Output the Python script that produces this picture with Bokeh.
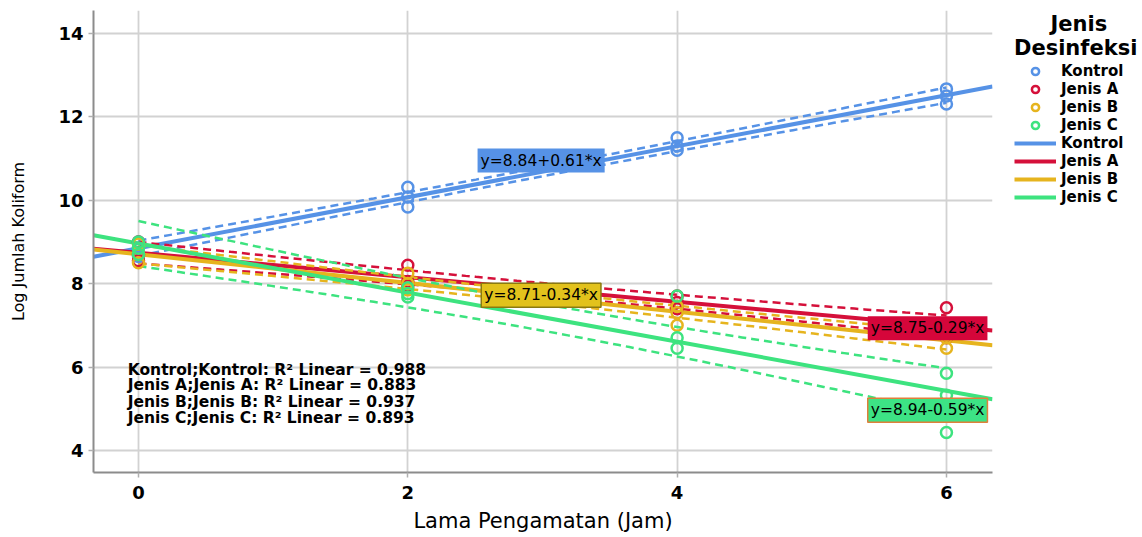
import numpy as np
from bokeh.plotting import figure
from bokeh.models import Label, Legend, LegendItem, Range1d, FixedTicker
from bokeh.embed import file_html
from bokeh.resources import INLINE

# ---------------- data ----------------
groups = ["Kontrol", "Jenis A", "Jenis B", "Jenis C"]
hours = [0, 0, 0, 2, 2, 2, 4, 4, 4, 6, 6, 6]
kontrol = [8.65, 8.85, 9.00, 10.31, 10.08, 9.84, 11.50, 11.30, 11.20, 12.67, 12.50, 12.31]
jenis_a = [9.00, 8.70, 8.55, 8.44, 8.05, 7.95, 7.70, 7.55, 7.40, 7.42, 6.85, 6.70]
jenis_b = [8.95, 8.70, 8.50, 8.25, 8.00, 7.85, 7.45, 7.30, 7.00, 6.90, 6.70, 6.45]
jenis_c = [9.00, 8.85, 8.70, 7.90, 7.76, 7.68, 7.70, 6.70, 6.45, 5.85, 5.32, 4.43]
eq_intercepts = [8.84, 8.75, 8.71, 8.94]
eq_slopes = [0.61, -0.29, -0.34, -0.59]
r2_values = [0.988, 0.883, 0.937, 0.893]
x_ticks = [0, 2, 4, 6]
y_ticks = [4, 6, 8, 10, 12, 14]

colors = ["#5692e6", "#d5103a", "#e6b41e", "#3de37f"]
box_fill = ["#5692e6", "#d5063a", "#e2c21c", "#3de385"]
box_line = [None, None, "#8a7a10", "#e0803a"]

X0, X1 = -0.334, 6.342
Y0, Y1 = 3.47, 14.55
T975 = 2.228  # t(0.975, df=10)

FONT = "DejaVu Sans"

p = figure(frame_width=899, frame_height=462, x_range=Range1d(X0, X1),
           y_range=Range1d(Y0, Y1), output_backend="svg", toolbar_location=None,
           min_border_left=93, min_border_top=10, min_border_bottom=0,
           min_border_right=0)
p.outline_line_color = None
p.background_fill_color = "white"

for ax in (p.xaxis[0], p.yaxis[0]):
    ax.axis_line_color = "#8c8c8c"
    ax.axis_line_width = 2
    ax.major_tick_line_color = "#b0b0b0"
    ax.major_tick_line_width = 1.5
    ax.major_tick_in = 0
    ax.major_tick_out = 5
    ax.minor_tick_line_color = None
    ax.major_label_text_font = FONT
    ax.major_label_text_font_style = "bold"
    ax.major_label_text_font_size = "18px"
    ax.major_label_text_color = "black"
    ax.axis_label_text_font = FONT
    ax.axis_label_text_font_style = "normal"
    ax.axis_label_text_color = "black"

p.xaxis.ticker = FixedTicker(ticks=x_ticks)
p.yaxis.ticker = FixedTicker(ticks=y_ticks)
p.xaxis.axis_label = "Lama Pengamatan (Jam)"
p.yaxis.axis_label = "Log Jumlah Koliform"
p.xaxis.axis_label_text_font_size = "21px"
p.yaxis.axis_label_text_font_size = "16px"
p.xaxis.major_label_standoff = 8
p.yaxis.major_label_standoff = 5
p.xaxis.axis_label_standoff = 7
p.yaxis.axis_label_standoff = 27

for g in (p.xgrid[0], p.ygrid[0]):
    g.grid_line_color = "#d2d2d2"
    g.grid_line_width = 1.8
p.xgrid.ticker = FixedTicker(ticks=x_ticks)
p.ygrid.ticker = FixedTicker(ticks=y_ticks)

series = [kontrol, jenis_a, jenis_b, jenis_c]
xa = np.array(hours, dtype=float)
xfine = np.linspace(min(hours), max(hours), 80)
xfull = np.array([X0, X1])

circle_items, line_items = [], []
for name, ys, col in zip(groups, series, colors):
    ya = np.array(ys)
    slope, icpt = np.polyfit(xa, ya, 1)
    n = len(xa)
    resid = ya - (icpt + slope * xa)
    s = np.sqrt(np.sum(resid ** 2) / (n - 2))
    sxx = np.sum((xa - xa.mean()) ** 2)
    half = T975 * s * np.sqrt(1.0 / n + (xfine - xa.mean()) ** 2 / sxx)
    yfit = icpt + slope * xfine
    p.line(xfine, yfit + half, line_color=col, line_width=2.5, line_dash="8 5")
    p.line(xfine, yfit - half, line_color=col, line_width=2.5, line_dash="8 5")
    lr = p.line(xfull, icpt + slope * xfull, line_color=col, line_width=4)
    line_items.append(LegendItem(label=name, renderers=[lr]))

for name, ys, col in zip(groups, series, colors):
    cr = p.scatter(hours, ys, marker="circle", size=11, fill_color=None,
                   line_color=col, line_width=2.5)
    circle_items.append(LegendItem(label=name, renderers=[cr]))

NB = "\u00a0"
legend = Legend(items=circle_items + line_items,
                title=NB * 5 + "Jenis\nDesinfeksi", location=(22, 266))
legend.title_text_font = FONT
legend.title_text_font_style = "bold"
legend.title_text_font_size = "21px"
legend.title_text_color = "black"
legend.title_text_line_height = 1.05
legend.title_standoff = 2
legend.label_text_font = FONT
legend.label_text_font_style = "bold"
legend.label_text_font_size = "15px"
legend.label_text_color = "black"
legend.glyph_width = 42
legend.glyph_height = 18
legend.label_standoff = 5
legend.label_height = 18
legend.spacing = 0
legend.padding = 8
legend.margin = 0
legend.border_line_color = None
legend.background_fill_alpha = 0
p.add_layout(legend, "right")

# equation boxes
eq_pos = [(2.99, 10.95), (5.86, 6.93), (2.99, 7.72), (5.86, 4.96)]
for (lx, ly), b, s_, fc, lc in zip(eq_pos, eq_intercepts, eq_slopes, box_fill, box_line):
    sign = "+" if s_ >= 0 else "-"
    txt = f"y={b:.2f}{sign}{abs(s_):.2f}*x"
    lab = Label(x=lx, y=ly, text=txt, text_align="center", text_baseline="middle",
                text_font=FONT, text_font_size="15.5px", text_color="black",
                background_fill_color=fc, border_line_color=lc,
                border_line_width=1.5, padding=3)
    p.add_layout(lab)

# R^2 annotations
r2_y = [5.94, 5.56, 5.17, 4.77]
for name, r2, yy in zip(groups, r2_values, r2_y):
    p.add_layout(Label(x=-0.08, y=yy, text=f"{name};{name}: R\u00b2 Linear = {r2:.3f}",
                       text_align="left", text_baseline="middle", text_font=FONT,
                       text_font_style="bold", text_font_size="15.5px",
                       text_color="black"))

open("out.html", "w").write(file_html(p, INLINE))
